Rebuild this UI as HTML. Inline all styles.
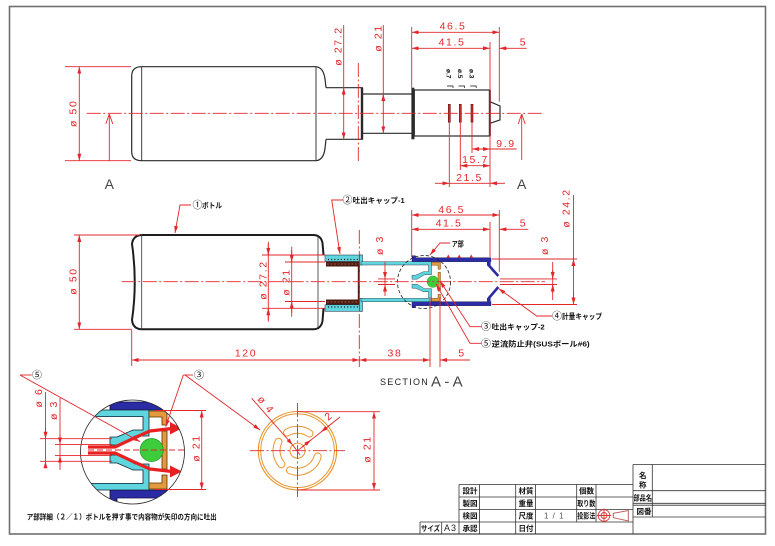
<!DOCTYPE html>
<html><head><meta charset="utf-8">
<style>
html,body{margin:0;padding:0;background:#fff;}
svg{display:block;}
text{font-family:"Liberation Sans","Noto Sans CJK JP",sans-serif;}
.d{fill:#e3262a;font-size:10.5px;letter-spacing:1.6px;}
.j{font-family:"Liberation Sans","Noto Sans CJK JP",sans-serif;font-weight:bold;fill:#111;font-size:7.5px;}
.c{font-family:"Liberation Sans","Noto Sans CJK JP",sans-serif;fill:#111;font-size:10px;}
</style></head><body>
<svg width="775" height="546" viewBox="0 0 775 546" xmlns="http://www.w3.org/2000/svg">
<defs>
<marker id="a" viewBox="0 0 7 4" refX="7" refY="2" markerWidth="7" markerHeight="4" markerUnits="userSpaceOnUse" orient="auto-start-reverse"><path d="M0,0L7,2L0,4Z" fill="#e3262a"/></marker>
<marker id="o" viewBox="0 0 10 8" refX="10" refY="4" markerWidth="10" markerHeight="8" markerUnits="userSpaceOnUse" orient="auto"><path d="M0,0.5L10,4L0,7.5" fill="none" stroke="#e3262a" stroke-width="0.9"/></marker>
<clipPath id="dc"><circle cx="132.5" cy="452" r="52"/></clipPath>
<g id="mech">
<path fill="#2b2ba6" stroke="#101040" stroke-width="0.4" d="M-11,-26H-7.5V-24H68V-20H-11Z M-11,26H-7.5V24H68V20H-11Z"/>
<path fill="#5fd5de" stroke="#123" stroke-width="0.4" d="M-62,-20H8.5V-7H1.5L-6,-2.5H-11V-6.5H-7.5L0.5,-10H5.5V-16.7H-62Z M-62,20H8.5V7H1.5L-6,2.5H-11V6.5H-7.5L0.5,10H5.5V16.7H-62Z"/>
<path fill="#e39a3e" stroke="#5a3000" stroke-width="0.4" d="M8.5,-19.5H17.5V-12.5H15V-16.5H8.5Z M15,-9.5H17.5V9.5H15Z M8.5,19.5H17.5V12.5H15V16.5H8.5Z"/>
<circle cx="9.8" cy="0" r="5.8" fill="#3ccc3c" stroke="#1a8a1a" stroke-width="0.3"/>
</g>
</defs>

<!-- border -->
<rect x="9.5" y="6.5" width="756" height="527.5" fill="none" stroke="#707070" stroke-width="1.6"/>

<!-- ================= TOP VIEW ================= -->
<g fill="none" stroke="#2a2a2a" stroke-width="1.2">
<path d="M141.7,66.7H316Q323.5,67.5 325,79L326,87.7M141.7,160.7H316Q323.5,160 325,148.5L326,139.3"/>
<path d="M141.7,66.7Q131.7,66.7 131.7,76V151.5Q131.7,160.7 141.7,160.7"/>
<path d="M141.7,66.7V160.7M316,66.7V160.7" stroke-width="0.9"/>
<path d="M326,87.7H362.3V139.3H326"/>
<path d="M362.3,94H411.5M362.3,133.3H411.5"/>
<rect x="414.3" y="90" width="75.7" height="46"/>
<path d="M490,101.7L500,106V120L490,123.3"/>
</g>
<rect x="360.8" y="87.7" width="2.4" height="51.6" fill="#2a2a2a"/>
<rect x="411.4" y="87.7" width="3" height="51.6" fill="#2a2a2a"/>
<rect x="488.8" y="90" width="2" height="46" fill="#2a2a2a"/>
<g fill="#c83030" stroke="#6a1010" stroke-width="0.6">
<rect x="448.3" y="104.3" width="2" height="18"/>
<rect x="459.3" y="104.3" width="2" height="18"/>
<rect x="471" y="104.3" width="2" height="18"/>
</g>
<g font-size="6.5" fill="#111" font-weight="bold">
<text transform="translate(446.5,69) rotate(90)">ø.7</text>
<text transform="translate(458,69) rotate(90)">ø.5</text>
<text transform="translate(469.7,69) rotate(90)">ø.3</text>
</g>
<path d="M447,86H453V88M458.5,86H464.5V88M470.2,86H476.2V88" fill="none" stroke="#111" stroke-width="0.7"/>

<g fill="none" stroke="#e3262a" stroke-width="0.9">
<line x1="86.7" y1="113.3" x2="543" y2="113.3" stroke-dasharray="14 2.5 2 2.5"/>
<line x1="358.3" y1="63" x2="358.3" y2="163" stroke-dasharray="14 2.5 2 2.5"/>
<path d="M65,66.7H131M65,160.7H131"/>
<line x1="79.3" y1="66.7" x2="79.3" y2="160.7" marker-start="url(#a)" marker-end="url(#a)"/>
<line x1="109.3" y1="160.7" x2="109.3" y2="114" marker-end="url(#o)"/>
<line x1="521.7" y1="160" x2="521.7" y2="114" marker-end="url(#o)"/>
<line x1="343.7" y1="25" x2="343.7" y2="139.3" marker-end="url(#a)"/>
<line x1="343.7" y1="96" x2="343.7" y2="87.7" marker-end="url(#a)"/>
<line x1="383.3" y1="25" x2="383.3" y2="133.3" marker-end="url(#a)"/>
<line x1="383.3" y1="102" x2="383.3" y2="94" marker-end="url(#a)"/>
<path d="M411.7,27V87.7M499.3,27V101.7M490,42V187M449.3,123V187M460.3,123V170M472,123V153"/>
<line x1="411.7" y1="32.3" x2="499.3" y2="32.3" marker-start="url(#a)" marker-end="url(#a)"/>
<line x1="411.7" y1="48.3" x2="490" y2="48.3" marker-start="url(#a)" marker-end="url(#a)"/>
<line x1="526.7" y1="48.3" x2="499.3" y2="48.3" marker-end="url(#a)"/>
<line x1="472" y1="149" x2="490" y2="149" marker-start="url(#a)" marker-end="url(#a)"/>
<line x1="490" y1="149" x2="516.7" y2="149"/>
<line x1="460.3" y1="165.7" x2="490" y2="165.7" marker-start="url(#a)" marker-end="url(#a)"/>
<line x1="435" y1="183.3" x2="449.3" y2="183.3" marker-end="url(#a)"/>
<line x1="505" y1="183.3" x2="490" y2="183.3" marker-end="url(#a)"/>
<line x1="449.3" y1="183.3" x2="490" y2="183.3"/>
</g>
<g class="d">
<text transform="translate(76.5,113.3) rotate(-90)" text-anchor="middle">ø 50</text>
<text transform="translate(341.5,46) rotate(-90)" text-anchor="middle">ø 27.2</text>
<text transform="translate(381.3,38) rotate(-90)" text-anchor="middle">ø 21</text>
<text x="453" y="29.5" text-anchor="middle">46.5</text>
<text x="452" y="45.7" text-anchor="middle">41.5</text>
<text x="523.5" y="45.7" text-anchor="middle">5</text>
<text x="506" y="147" text-anchor="middle">9.9</text>
<text x="475.5" y="163" text-anchor="middle">15.7</text>
<text x="469.5" y="181" text-anchor="middle">21.5</text>
</g>
<text x="109.3" y="189" text-anchor="middle" font-size="14" fill="#444">A</text>
<text x="521.7" y="189" text-anchor="middle" font-size="14" fill="#444">A</text>

<!-- ================= SECTION VIEW ================= -->
<g fill="none" stroke="#1e1e1e" stroke-width="2">
<path d="M141.7,235H313Q321,235 322.5,243L323.5,255M141.7,329.3H313Q321,329.3 322.5,321L323.5,308.3"/>
<path d="M141.7,235Q133,235.5 132,244Q137.5,282 132,320Q133,329 141.7,329.3"/>
</g>
<path d="M141.7,235V329.3M318,236V328" stroke="#333" stroke-width="0.8" fill="none"/>
<!-- cap 2 (cyan) -->
<g stroke="#123" stroke-width="0.5">
<rect x="325" y="255" width="36.7" height="6.5" fill="#5fd5de"/>
<rect x="325" y="304.8" width="36.7" height="6.5" fill="#5fd5de"/>
<rect x="359.5" y="255" width="3" height="10" fill="#5fd5de"/>
<rect x="359.5" y="298.4" width="3" height="13" fill="#5fd5de"/>
</g>
<rect x="326" y="261.5" width="33.5" height="5" fill="#4b1c14"/>
<rect x="326" y="299.5" width="33.5" height="5" fill="#4b1c14"/>
<rect x="357.8" y="261.5" width="2" height="43" fill="#4b1c14"/>
<path d="M327,264H358M327,302H358" stroke="#b06050" stroke-width="0.8" stroke-dasharray="2 1.5"/>
<path d="M328,259.5H358M328,307H358" stroke="#111" stroke-width="1.3" stroke-dasharray="1 2.2"/>
<use href="#mech" transform="translate(423,281.7)"/>
<g fill="#2b2ba6">
<rect x="487" y="257.7" width="3.6" height="8"/>
<rect x="487" y="298" width="3.6" height="7.7"/>
</g>
<path d="M488.5,265L498.3,276M488.5,298.5L498.3,287" stroke="#2b2ba6" stroke-width="2.6" fill="none"/>
<g fill="#e3262a"><path d="M446.5,257.7L448.3,254.5L450,257.7Z M457.5,257.7L459.3,254.5L461,257.7Z M469.5,257.7L471.3,254.5L473,257.7Z"/></g>
<circle cx="424" cy="282" r="26.5" fill="none" stroke="#222" stroke-width="0.8" stroke-dasharray="3.5 2"/>

<g fill="none" stroke="#e3262a" stroke-width="0.9">
<line x1="121.7" y1="281.7" x2="545" y2="281.7" stroke-dasharray="14 2.5 2 2.5"/>
<line x1="359.3" y1="230" x2="359.3" y2="367" stroke-dasharray="14 2.5 2 2.5"/>
<path d="M74,235H140M74,329.3H132"/>
<line x1="79.3" y1="235" x2="79.3" y2="329.3" marker-start="url(#a)" marker-end="url(#a)"/>
<path d="M262,255H325M262,308.3H325M285,262H325M285,301.5H325"/>
<line x1="268.3" y1="241.7" x2="268.3" y2="321.7"/>
<line x1="268.3" y1="244" x2="268.3" y2="255" marker-end="url(#a)"/>
<line x1="268.3" y1="320" x2="268.3" y2="308.3" marker-end="url(#a)"/>
<line x1="291.7" y1="246.7" x2="291.7" y2="316.7"/>
<line x1="291.7" y1="250" x2="291.7" y2="262" marker-end="url(#a)"/>
<line x1="291.7" y1="313" x2="291.7" y2="301.5" marker-end="url(#a)"/>
<path d="M378,278.9H395M378,284.5H395M500,278.9H557M500,284.5H557"/>
<line x1="385" y1="262" x2="385" y2="296"/>
<line x1="385" y1="270" x2="385" y2="278.9" marker-end="url(#a)"/>
<line x1="385" y1="293" x2="385" y2="284.5" marker-end="url(#a)"/>
<line x1="552.7" y1="262" x2="552.7" y2="300"/>
<line x1="552.7" y1="270" x2="552.7" y2="278.9" marker-end="url(#a)"/>
<line x1="552.7" y1="293" x2="552.7" y2="284.5" marker-end="url(#a)"/>
<path d="M411.7,210V257M499.3,210V271.7M490,221.7V257"/>
<line x1="411.7" y1="215" x2="499.3" y2="215" marker-start="url(#a)" marker-end="url(#a)"/>
<line x1="411.7" y1="229.3" x2="490" y2="229.3" marker-start="url(#a)" marker-end="url(#a)"/>
<line x1="528.3" y1="229.3" x2="499.3" y2="229.3" marker-end="url(#a)"/>
<path d="M492,259H577M492,304.5H577"/>
<line x1="573.5" y1="195" x2="573.5" y2="304.5"/>
<line x1="573.5" y1="268" x2="573.5" y2="259" marker-end="url(#a)"/>
<line x1="573.5" y1="292" x2="573.5" y2="304.5" marker-end="url(#a)"/>
<path d="M131.7,330V366M430,297V367M440,297V367"/>
<line x1="131.7" y1="360" x2="359.3" y2="360" marker-start="url(#a)" marker-end="url(#a)"/>
<line x1="359.3" y1="360" x2="430" y2="360" marker-start="url(#a)" marker-end="url(#a)"/>
<line x1="470" y1="360" x2="440" y2="360" marker-end="url(#a)"/>
<polyline points="191,205 180,205 175,233" marker-end="url(#a)"/>
<polyline points="343,200 331.7,200 340,254" marker-end="url(#a)"/>
<polyline points="450,243 440,243 430,255" marker-end="url(#a)"/>
<polyline points="552,316 536.7,316 498.5,288.5" marker-end="url(#a)"/>
<polyline points="481.5,326.7 470,326.7 440,281" marker-end="url(#a)"/>
<polyline points="481.5,343.3 470,343.3 436,284" marker-end="url(#a)"/>
</g>
<g class="d">
<text transform="translate(76.5,281) rotate(-90)" text-anchor="middle">ø 50</text>
<text transform="translate(266.3,280) rotate(-90)" text-anchor="middle">ø 27.2</text>
<text transform="translate(289.5,282) rotate(-90)" text-anchor="middle">ø 21</text>
<text transform="translate(383,245) rotate(-90)" text-anchor="middle">ø 3</text>
<text transform="translate(548,245) rotate(-90)" text-anchor="middle">ø 3</text>
<text transform="translate(569.5,208) rotate(-90)" text-anchor="middle">ø 24.2</text>
<text x="451.7" y="213" text-anchor="middle">46.5</text>
<text x="449" y="226.7" text-anchor="middle">41.5</text>
<text x="523.5" y="226.7" text-anchor="middle">5</text>
<text x="246" y="356.7" text-anchor="middle">120</text>
<text x="395" y="356.7" text-anchor="middle">38</text>
<text x="462" y="356.7" text-anchor="middle">5</text>
</g>
<text class="c" x="192.5" y="208.5">①</text>
<text class="j" x="202" y="208" textLength="20" lengthAdjust="spacingAndGlyphs">ボトル</text>
<text class="c" x="342.5" y="203.5">②</text>
<text class="j" x="352.7" y="203" textLength="52" lengthAdjust="spacingAndGlyphs">吐出キャップ-1</text>
<text class="j" x="451.7" y="246.5" textLength="12" lengthAdjust="spacingAndGlyphs">ア部</text>
<text class="c" x="552" y="319.5">④</text>
<text class="j" x="562" y="319" textLength="40" lengthAdjust="spacingAndGlyphs">計量キャップ</text>
<text class="c" x="481" y="330.2">③</text>
<text class="j" x="491.7" y="329.7" textLength="53" lengthAdjust="spacingAndGlyphs">吐出キャップ-2</text>
<text class="c" x="481" y="346.8">⑤</text>
<text class="j" x="491.7" y="346.3" textLength="98" lengthAdjust="spacingAndGlyphs">逆流防止弁(SUSボール#6)</text>
<text x="380" y="385" font-size="9" letter-spacing="1.3" fill="#222">SECTION</text>
<text x="431" y="386.5" font-size="15" fill="#444">A - A</text>

<!-- ================= DETAIL ================= -->
<g clip-path="url(#dc)">
<use href="#mech" transform="translate(132,450) scale(2)"/>
<g fill="none" stroke="#e82020" stroke-width="3.2" stroke-linejoin="round">
<path d="M88,447H115L133,438.5L150,431L172,428.5"/>
<path d="M88,453H115L133,461.5L150,469L172,471.5"/>
</g>
<g fill="#e82020">
<path d="M170,422L182,428.3L170,434.5Z"/>
<path d="M170,465.5L182,471.5L170,477.5Z"/>
</g>
</g>
<circle cx="132.5" cy="452" r="52" fill="none" stroke="#222" stroke-width="0.8"/>
<g fill="none" stroke="#e3262a" stroke-width="0.9">
<line x1="88" y1="450" x2="186" y2="450" stroke-dasharray="6 3"/>
<path d="M40,438.7H112M40,461.3H112M55,444.4H112M55,455.6H112"/>
<line x1="45.5" y1="392" x2="45.5" y2="468"/>
<line x1="45.5" y1="428" x2="45.5" y2="438.7" marker-end="url(#a)"/>
<line x1="45.5" y1="468" x2="45.5" y2="461.3" marker-end="url(#a)"/>
<line x1="60" y1="398" x2="60" y2="470"/>
<line x1="60" y1="434" x2="60" y2="444.4" marker-end="url(#a)"/>
<line x1="60" y1="466" x2="60" y2="455.6" marker-end="url(#a)"/>
<path d="M155,410.5H206M155,489.5H206"/>
<line x1="201.7" y1="410.5" x2="201.7" y2="489.5" marker-start="url(#a)" marker-end="url(#a)"/>
<path d="M31.7,375H20"/>
<line x1="20" y1="375" x2="140" y2="441.7" marker-end="url(#a)"/>
<path d="M193,375H183.3"/>
<line x1="183.3" y1="375" x2="165.7" y2="426.7" marker-end="url(#a)"/>
<line x1="185" y1="375" x2="260" y2="430" marker-end="url(#a)"/>
</g>
<g class="d">
<text transform="translate(42,397.5) rotate(-90)" text-anchor="middle">ø 6</text>
<text transform="translate(57,410) rotate(-90)" text-anchor="middle">ø 3</text>
<text transform="translate(199.5,448) rotate(-90)" text-anchor="middle">ø 21</text>
</g>
<text class="c" x="32" y="378.5">⑤</text>
<text class="c" x="194" y="378.5">③</text>
<text class="j" x="26.7" y="519.5" font-size="7.5" textLength="190" lengthAdjust="spacingAndGlyphs">ア部詳細（２／１）ボトルを押す事で内容物が矢印の方向に吐出</text>

<!-- ================= DISK ================= -->
<g fill="none" stroke="#e8952e">
<circle cx="297.5" cy="450.7" r="39.2" stroke-width="1.1"/>
<circle cx="297.5" cy="450.7" r="36.8" stroke-width="1"/>
<circle cx="297.5" cy="450.7" r="7.5" stroke-width="1"/>
<g stroke-width="8" stroke-linecap="round">
<path d="M287,432.5A21,21 0 0 1 309.5,433.5"/>
<path d="M281.4,464.2A21,21 0 0 1 278.5,441.8"/>
<path d="M317.7,456.5A21,21 0 0 1 290,470.3"/>
</g>
<g stroke="#fff" stroke-width="6" stroke-linecap="round">
<path d="M287,432.5A21,21 0 0 1 309.5,433.5"/>
<path d="M281.4,464.2A21,21 0 0 1 278.5,441.8"/>
<path d="M317.7,456.5A21,21 0 0 1 290,470.3"/>
</g>
</g>
<g fill="none" stroke="#e3262a" stroke-width="0.9">
<line x1="297.5" y1="403" x2="297.5" y2="497" stroke-dasharray="14 2.5 2 2.5"/>
<line x1="250" y1="450.7" x2="345" y2="450.7" stroke-dasharray="14 2.5 2 2.5"/>
<line x1="251.7" y1="398.3" x2="292.7" y2="445" marker-end="url(#a)"/>
<line x1="292.7" y1="445" x2="300" y2="455"/>
<line x1="340" y1="417" x2="297.5" y2="450.7"/>
<line x1="332" y1="423.3" x2="321" y2="432" marker-end="url(#a)"/>
<line x1="302" y1="447" x2="311" y2="440" marker-end="url(#a)"/>
<path d="M298,411.7H380M298,490H380"/>
<line x1="374" y1="411.7" x2="374" y2="490" marker-start="url(#a)" marker-end="url(#a)"/>
</g>
<g class="d">
<text transform="translate(257,399.5) rotate(50)">ø 4</text>
<text transform="translate(328,421) rotate(-38)">2</text>
<text transform="translate(370.5,449) rotate(-90)" text-anchor="middle">ø 21</text>
</g>

<!-- ================= TITLE BLOCK ================= -->
<g stroke="#333" stroke-width="0.8" fill="none">
<path d="M459,484.5H633M459,497H633M459,509.5H633M420,522H633"/>
<path d="M420,522V534M441.7,522V534M459,484.5V534M479.5,484.5V534M515.7,484.5V534M535.5,484.5V534M576.7,484.5V522M596,484.5V522M633,464.5V534"/>
<path d="M633,464.5H765.5M633,490.7H765.5M633,517H765.5M652.3,464.5V517"/>
<path d="M633,503.3H765.5M633,505.2H765.5"/>
</g>
<g class="j">
<text x="462.5" y="493.5">設計</text>
<text x="462.5" y="506">製図</text>
<text x="462.5" y="518.5">検図</text>
<text x="462.5" y="531">承認</text>
<text x="518.5" y="493.5">材質</text>
<text x="518.5" y="506">重量</text>
<text x="518.5" y="518.5">尺度</text>
<text x="518.5" y="531">日付</text>
<text x="579" y="493.5">個数</text>
<text x="577.3" y="506" textLength="18" lengthAdjust="spacingAndGlyphs">取り数</text>
<text x="577.3" y="518.5" textLength="18" lengthAdjust="spacingAndGlyphs">投影法</text>
<text x="421" y="531" textLength="19" lengthAdjust="spacingAndGlyphs">サイズ</text>
<text x="639" y="478">名</text>
<text x="639" y="487.5">称</text>
<text x="633.5" y="500.5" textLength="18.5" lengthAdjust="spacingAndGlyphs">部品名</text>
<text x="636.5" y="514">図番</text>
</g>
<text x="444" y="531" font-size="9" fill="#222" letter-spacing="1">A3</text>
<text x="544" y="518.5" font-size="8" fill="#555" letter-spacing="1">1 / 1</text>
<g fill="none" stroke="#d33" stroke-width="0.9">
<circle cx="604" cy="515.5" r="5.8"/>
<circle cx="604" cy="515.5" r="3"/>
<path d="M597,515.5H611M604,508.5V522.5"/>
</g>
<path d="M613.3,513.3L628.3,510.5V521L613.3,517.7Z" fill="none" stroke="#b55" stroke-width="0.9"/>
</svg>
</body></html>
